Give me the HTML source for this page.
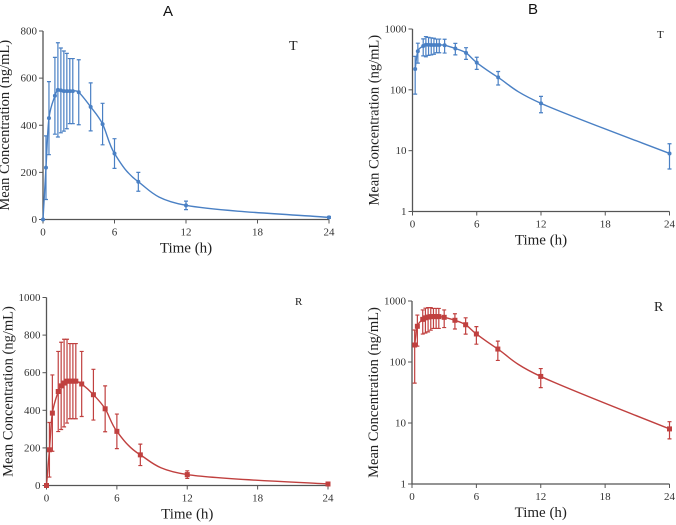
<!DOCTYPE html>
<html><head><meta charset="utf-8"><style>
body{margin:0;background:#fff;}
svg{display:block;font-family:"Liberation Serif",serif;}
</style></head><body>
<svg id="fig" width="676" height="525" viewBox="0 0 676 525"></svg>
<script>
const times=[0,0.25,0.5,1,1.25,1.5,1.75,2,2.25,2.5,3,4,5,6,8,12,24];
const tMean=[0,220,430,525,550,548,545,545,545,545,540,478,405,280,160,60,9];
const tSD=[0,135,155,163,200,180,170,160,138,138,138,102,88,63,40,18,4];
const rMean=[0,190,385,500,530,545,555,555,555,555,540,483,408,288,163,58,8];
const rSD=[0,145,203,213,232,233,223,200,200,200,173,135,122,92,57,20,2.5];
const xTicks=[0,6,12,18,24];
const linTicksT=[0,200,400,600,800];
const linTicksR=[0,200,400,600,800,1000];
const logTicks=[1,10,100,1000];

const NS="http://www.w3.org/2000/svg";
const svg=document.getElementById('fig');
function el(tag,attrs,parent){const e=document.createElementNS(NS,tag);for(const k in attrs)e.setAttribute(k,attrs[k]);(parent||svg).appendChild(e);return e;}

function curve(pts){
  let d="M"+pts[0][0]+","+pts[0][1];
  for(let i=0;i<pts.length-1;i++){
    const p0=pts[Math.max(0,i-1)],p1=pts[i],p2=pts[i+1],p3=pts[Math.min(pts.length-1,i+2)];
    const c1=[p1[0]+(p2[0]-p0[0])/6,p1[1]+(p2[1]-p0[1])/6];
    const c2=[p2[0]-(p3[0]-p1[0])/6,p2[1]-(p3[1]-p1[1])/6];
    d+=" C"+c1[0]+","+c1[1]+" "+c2[0]+","+c2[1]+" "+p2[0]+","+p2[1];
  }
  return d;
}

function panel(cfg){
  const g=el('g',{});
  
  
  const x=t=>cfg.x0+(cfg.x1-cfg.x0)*t/24;
  const y=cfg.log?(v=>cfg.yb+(cfg.yt-cfg.yb)*Math.log10(Math.max(v,0.5))/3):(v=>cfg.yb+(cfg.yt-cfg.yb)*v/cfg.ymax);
  // axes
  const ya=el('line',{x1:cfg.x0,y1:cfg.yt,x2:cfg.x0,y2:cfg.yb,stroke:'#555','stroke-width':1.3},g);
  
  const xa=el('line',{x1:cfg.x0,y1:cfg.yb,x2:cfg.x1,y2:cfg.yb,stroke:'#555','stroke-width':1.3},g);
  
  cfg.yticks.forEach(v=>{
    const yy=y(v);
    el('line',{x1:cfg.x0-4,y1:yy,x2:cfg.x0,y2:yy,stroke:'#555'},g);
    const tx=el('text',{x:cfg.x0-6,y:yy+3.5,'font-size':11,'text-anchor':'end',fill:'#333'},g);
    tx.textContent=v;
    
  });
  xTicks.forEach(v=>{
    const xx=x(v);
    el('line',{x1:xx,y1:cfg.yb,x2:xx,y2:cfg.yb+4,stroke:'#555'},g);
    const tx=el('text',{x:xx,y:cfg.yb+16,'font-size':11,'text-anchor':'middle',fill:'#333'},g);
    tx.textContent=v;
    
  });
  const xl=el('text',{x:(cfg.x0+cfg.x1)/2,y:cfg.yb+33,'font-size':15,'text-anchor':'middle',fill:'#222'},g);
  xl.textContent='Time (h)';
  
  const ycx=cfg.x0-34, ycy=(cfg.yt+cfg.yb)/2;
  const yl=el('text',{x:ycx,y:ycy,'font-size':14.5,'text-anchor':'middle',fill:'#222',transform:`rotate(-90 ${ycx} ${ycy})`},g);
  yl.textContent='Mean Concentration (ng/mL)';
  
  const lb=el('text',{x:cfg.labX,y:cfg.labY,'font-size':cfg.labSize,fill:'#222'},g);
  lb.textContent=cfg.label;
  
  // series
  const idx=times.map((t,i)=>i).filter(i=>!cfg.log||cfg.mean[i]>0);
  const pts=idx.map(i=>[x(times[i]),y(cfg.mean[i])]);
  const ln=el('path',{d:curve(pts),fill:'none',stroke:cfg.color,'stroke-width':1.4},g);
  
  idx.forEach(i=>{
    const xx=x(times[i]);
    const m=cfg.mean[i],s=cfg.sd[i];
    if(s>0){
      const top=y(m+s),bot=y(Math.max(m-s,cfg.log?1:0));
      const eb=el('path',{d:`M${xx},${top}V${bot}M${xx-2},${top}H${xx+2}M${xx-2},${bot}H${xx+2}`,stroke:cfg.color,'stroke-width':1.2,fill:'none'},g);
      
    }
    const yy=y(m);
    const mk=cfg.square?el('rect',{x:xx-2.5,y:yy-2.5,width:5,height:5,fill:cfg.color},g):el('circle',{cx:xx,cy:yy,r:2,fill:cfg.color},g);
    
  });
}

const blue='#4a80c4', red='#c0403f';
panel({name:'panel-a-test-linear',x0:43,x1:329,yt:31,yb:219.5,ymax:800,yticks:linTicksT,mean:tMean,sd:tSD,color:blue,label:'T',labX:289,labY:50,labSize:14});
panel({name:'panel-b-test-log',x0:412.5,x1:669.5,yt:29,yb:211.5,log:true,yticks:logTicks,mean:tMean,sd:tSD,color:blue,label:'T',labX:657,labY:38,labSize:11});
panel({name:'panel-a-reference-linear',x0:46.5,x1:328,yt:297.5,yb:485.5,ymax:1000,yticks:linTicksR,mean:rMean,sd:rSD,color:red,label:'R',labX:295,labY:305,labSize:11,square:true});
panel({name:'panel-b-reference-log',x0:412,x1:669.5,yt:301,yb:484,log:true,yticks:logTicks,mean:rMean,sd:rSD,color:red,label:'R',labX:654,labY:311,labSize:14,square:true});

const ta=el('text',{x:168,y:16,'font-size':15,'text-anchor':'middle','font-family':'Liberation Sans, sans-serif',fill:'#111'});
ta.textContent='A';


const tb=el('text',{x:533,y:14,'font-size':15,'text-anchor':'middle','font-family':'Liberation Sans, sans-serif',fill:'#111'});
tb.textContent='B';


</script>
</body></html>
